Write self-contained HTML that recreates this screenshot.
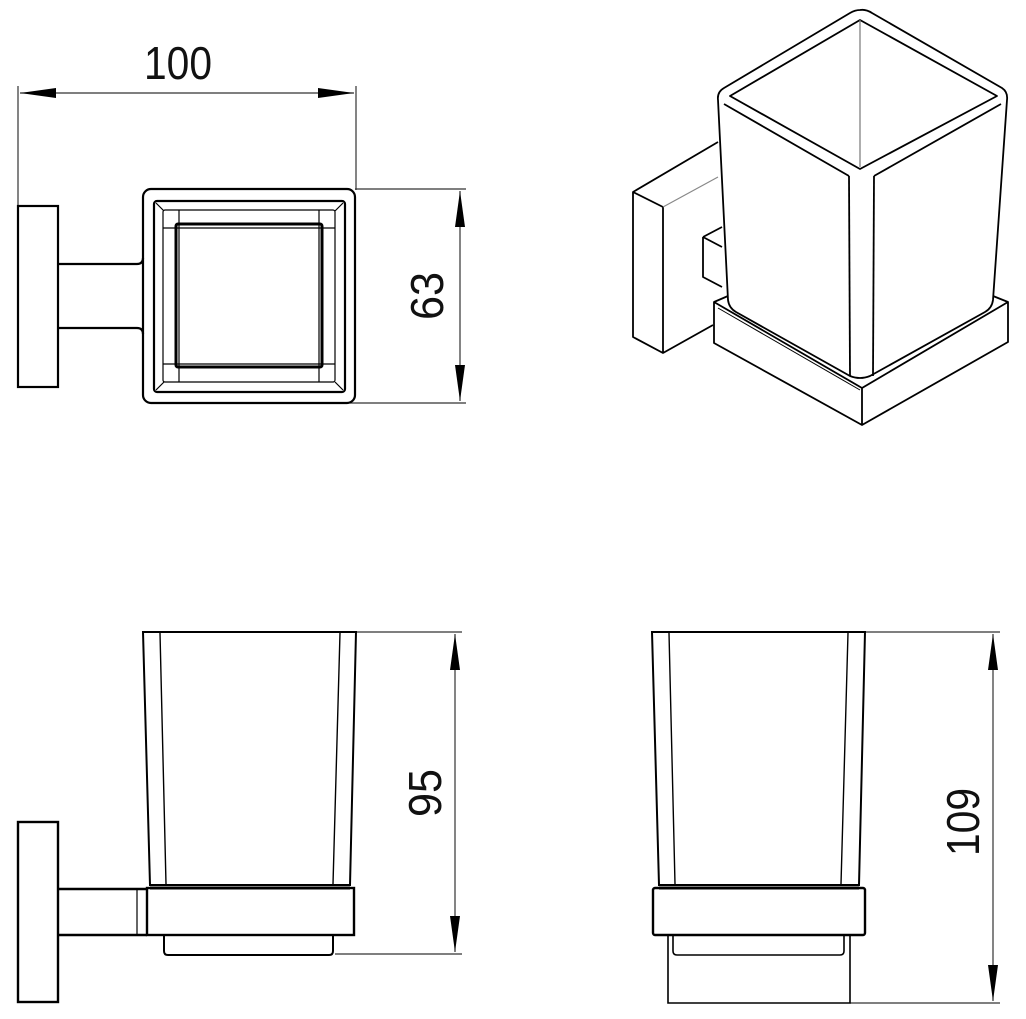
<!DOCTYPE html>
<html><head><meta charset="utf-8"><style>html,body{margin:0;padding:0;background:#fff}svg{display:block}</style></head>
<body>
<svg width="1026" height="1019" viewBox="0 0 1026 1019" xmlns="http://www.w3.org/2000/svg" font-family="Liberation Sans, sans-serif">
<defs>
<marker id="a" viewBox="0 0 36 10" refX="36" refY="5" markerWidth="36" markerHeight="10" markerUnits="userSpaceOnUse" orient="auto-start-reverse"><path d="M0,0 L36,5 L0,10 Z" fill="#000"/></marker>
</defs>
<g fill="none" stroke="#000">
<!-- top-left dims -->
<g stroke="#333" stroke-width="1.2">
<line x1="18" y1="86" x2="18" y2="206"/>
<line x1="356" y1="86" x2="356" y2="190"/>
<line x1="20" y1="93" x2="354" y2="93" marker-start="url(#a)" marker-end="url(#a)"/>
<line x1="355" y1="189" x2="466" y2="189"/>
<line x1="350" y1="403" x2="466" y2="403"/>
<line x1="460" y1="191" x2="460" y2="401" marker-start="url(#a)" marker-end="url(#a)"/>
</g>
<g stroke-width="2.2">
<rect x="18" y="206" width="40" height="181"/>
<path d="M58,264 H137 Q143,264 143,258 M58,328 H137 Q143,328 143,334"/>
<rect x="143" y="189" width="212" height="214" rx="8"/>
<rect x="154" y="201" width="191" height="191" rx="3"/>
<rect x="176" y="224" width="146" height="143" rx="2" stroke-width="3"/>
</g>
<g stroke-width="1.2">
<rect x="163" y="210" width="172" height="172" rx="2"/>
<line x1="179" y1="210" x2="179" y2="382"/><line x1="319" y1="210" x2="319" y2="382"/>
<line x1="163" y1="228" x2="335" y2="228"/><line x1="163" y1="364" x2="335" y2="364"/>
<line x1="156" y1="203" x2="164" y2="211"/><line x1="343" y1="203" x2="335" y2="211"/>
<line x1="156" y1="390" x2="164" y2="382"/><line x1="343" y1="390" x2="335" y2="382"/>
</g>
<!-- isometric -->
<g stroke-width="1.8" stroke-linejoin="round">
<path d="M860,10 Q866,9 872,13 L1002,88 Q1008,92 1007,100 L993,300 Q992,308 985,312 L870,376 Q860,380 850,376 L736,312 Q729,308 728,300 L718,100 Q717,92 724,88 L850,13 Q855,10 860,10 Z"/>
<path d="M860,20 L997,96 L860,169 L730,96 Z"/>
<path d="M724,104 L849,176 M1001,104 L874,176"/>
<line x1="849" y1="176" x2="850" y2="376"/><line x1="874" y1="176" x2="873" y2="376"/>
<line x1="860" y1="20" x2="860" y2="167" stroke="#777" stroke-width="1.2"/>
<path d="M714,302 L728,296 M993,296 L1008,302 L1008,342 L862,425 L714,343 L714,302 L862,388 L1008,302 M862,388 L862,425"/>
<path d="M718,308 L860,390" stroke-width="1"/>
<path d="M633,192 L718,142 M633,192 L663,207 L663,353 L633,337 Z M663,353 L713,325"/>
<path d="M663,207 L718,177" stroke="#888" stroke-width="1.2"/>
<path d="M703,237 L722,227 M703,237 L703,277 L722,287 M703,237 L722,247" />
</g>
<!-- bottom-left -->
<g stroke="#333" stroke-width="1.2">
<line x1="356" y1="632" x2="462" y2="632"/>
<line x1="335" y1="954" x2="462" y2="954"/>
<line x1="455" y1="634" x2="455" y2="952" marker-start="url(#a)" marker-end="url(#a)"/>
</g>
<g stroke-width="2">
<path d="M143,632 H356 L350,885 H150 Z"/>
<path d="M160,633 L166,884 M340,633 L333,884" stroke-width="1.4"/>
<line x1="150" y1="888" x2="350" y2="888" stroke-width="3"/>
<rect x="147" y="888" width="207" height="47" stroke-width="2.4"/>
<line x1="137" y1="889" x2="137" y2="935" stroke-width="1.2"/>
<path d="M164,935 V951 Q164,955 168,955 H329 Q333,955 333,951 V935"/>
<rect x="18" y="822" width="40" height="180" stroke-width="2.4"/>
<path d="M58,889 H147 M58,935 H147" stroke-width="2.4"/>
</g>
<!-- bottom-right -->
<g stroke="#333" stroke-width="1.2">
<line x1="865" y1="632" x2="1000" y2="632"/>
<line x1="850" y1="1003" x2="1000" y2="1003"/>
<line x1="993" y1="634" x2="993" y2="1001" marker-start="url(#a)" marker-end="url(#a)"/>
</g>
<g stroke-width="2">
<path d="M652,632 H865 L859,885 H659 Z"/>
<path d="M669,633 L675,884 M848,633 L841,884" stroke-width="1.4"/>
<line x1="659" y1="888" x2="859" y2="888" stroke-width="3"/>
<rect x="653" y="888" width="212" height="47" rx="2" stroke-width="2.4"/>
<path d="M673,935 V951 Q673,955 677,955 H840 Q844,955 844,951 V935" stroke-width="1.6"/>
<path d="M668,935 V1003 H850 V935" stroke-width="1.6"/>
</g>
</g>
<g fill="#111" font-size="46">
<text x="178" y="79" text-anchor="middle" textLength="68" lengthAdjust="spacingAndGlyphs">100</text>
<text transform="translate(443,296) rotate(-90)" text-anchor="middle" textLength="48" lengthAdjust="spacingAndGlyphs">63</text>
<text transform="translate(441,793) rotate(-90)" text-anchor="middle" textLength="48" lengthAdjust="spacingAndGlyphs">95</text>
<text transform="translate(979,822) rotate(-90)" text-anchor="middle" textLength="68" lengthAdjust="spacingAndGlyphs">109</text>
</g>
</svg>
</body></html>
